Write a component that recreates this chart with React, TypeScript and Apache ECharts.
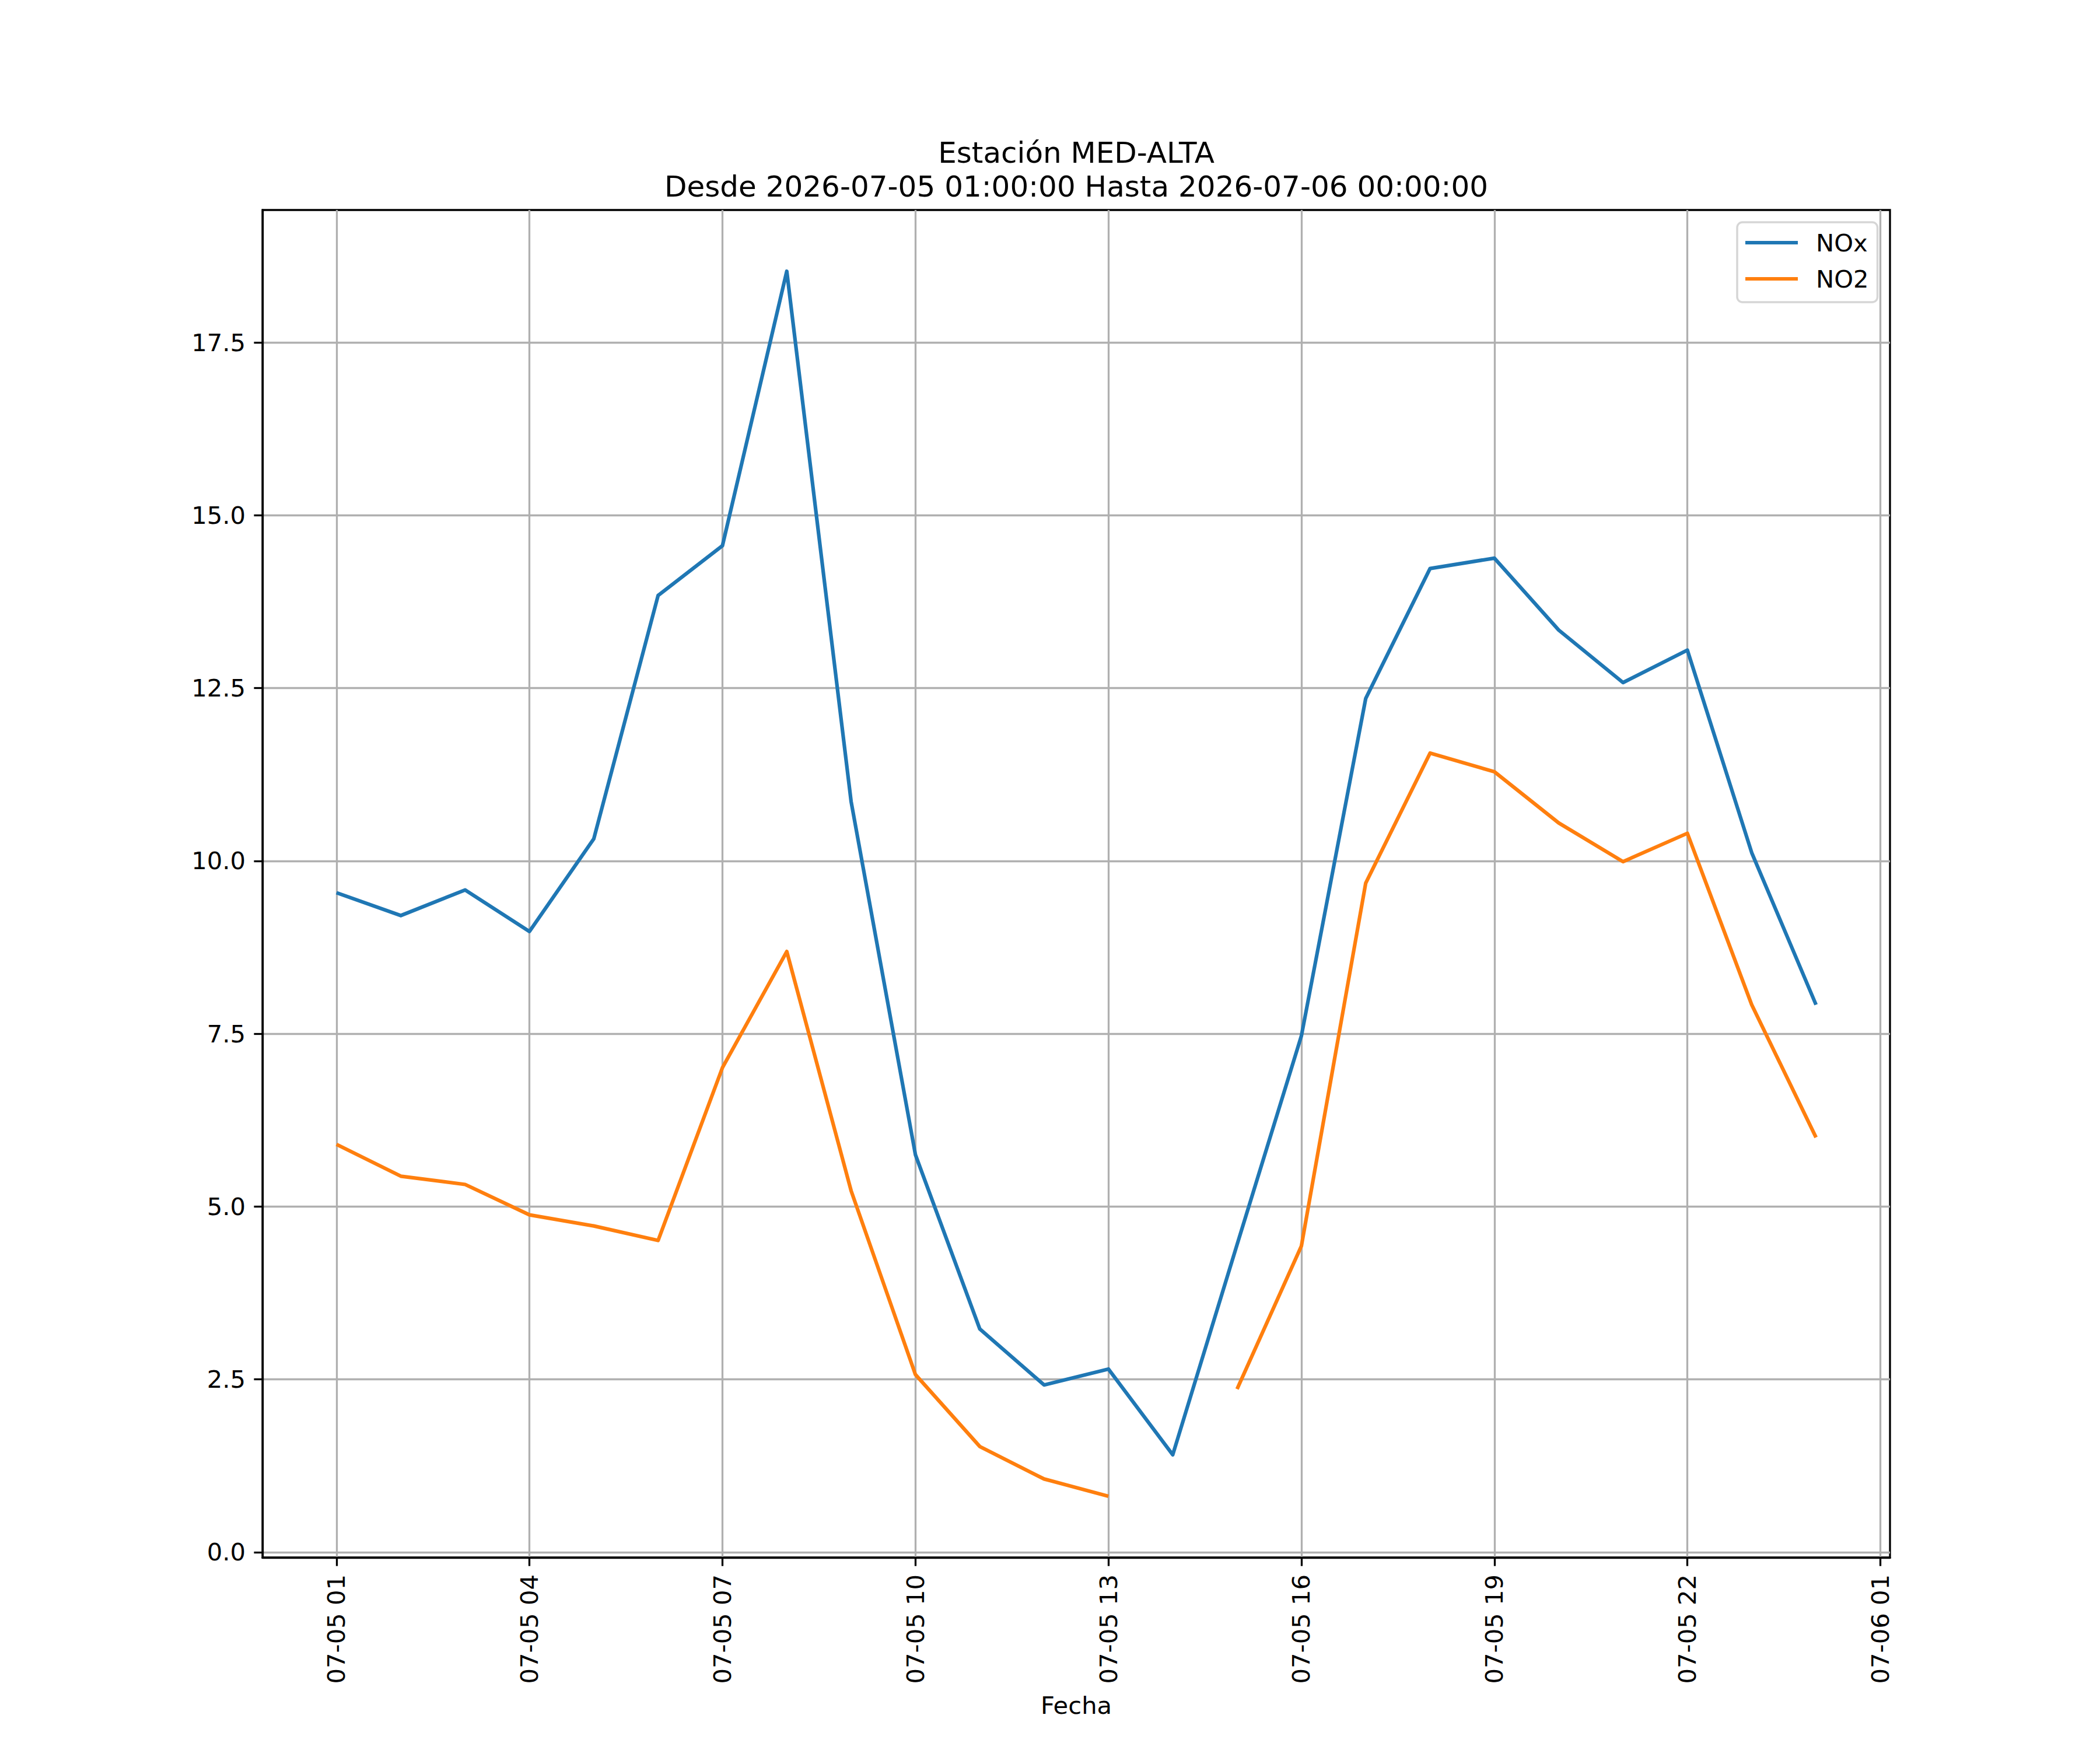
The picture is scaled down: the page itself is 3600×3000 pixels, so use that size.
import React, { useEffect, useRef } from "react";
import * as echarts from "echarts";

// horas desde 2026-07-05 00:00 (1 = 01:00, 24 = 07-06 00:00)
const hours = [1, 2, 3, 4, 5, 6, 7, 8, 9, 10, 11, 12, 13, 14, 15, 16, 17, 18, 19, 20, 21, 22, 23, 24];
const noxValues = [
  9.54, 9.21, 9.58, 8.98, 10.32, 13.84, 14.56, 18.53, 10.86, 5.75, 3.23, 2.42,
  2.65, 1.41, 4.45, 7.47, 12.35, 14.23, 14.38, 13.34, 12.58, 13.05, 10.12, 7.92,
];
const no2Values = [
  5.9, 5.44, 5.32, 4.88, 4.72, 4.51, 7.01, 8.69, 5.23, 2.57, 1.53, 1.06,
  0.81, null, 2.36, 4.43, 9.68, 11.56, 11.29, 10.55, 9.99, 10.4, 7.92, 6.0,
];
const xTickValues = [1, 4, 7, 10, 13, 16, 19, 22, 25];
const xTickLabels = [
  "07-05 01", "07-05 04", "07-05 07", "07-05 10", "07-05 13",
  "07-05 16", "07-05 19", "07-05 22", "07-06 01",
];
const yTickValues = [0, 2.5, 5, 7.5, 10, 12.5, 15, 17.5];

const FONT = "DejaVu Sans";

const App: React.FC = () => {
  const chartRef = useRef<HTMLDivElement>(null);

  useEffect(() => {
    document.body.style.margin = "0";
    if (!chartRef.current) return;
    const chart = echarts.init(chartRef.current, null, { renderer: "svg" });

    // margen de 5% como matplotlib
    const allY = [...noxValues, ...no2Values].filter((v) => v !== null) as number[];
    const yLo = Math.min(...allY);
    const yHi = Math.max(...allY);
    const yPad = (yHi - yLo) * 0.05;
    const xLo = hours[0];
    const xHi = hours[hours.length - 1];
    const xPad = (xHi - xLo) * 0.05;

    chart.setOption({
      animation: false,
      backgroundColor: "#ffffff",
      title: {
        text: "Estación MED-ALTA\nDesde 2026-07-05 01:00:00 Hasta 2026-07-06 00:00:00",
        left: 1845,
        top: 233,
        padding: 0,
        textAlign: "center",
        textStyle: {
          fontFamily: FONT,
          fontSize: 50,
          fontWeight: "normal",
          color: "#000",
          lineHeight: 58,
        },
      },
      legend: {
        orient: "vertical",
        left: 2978,
        top: 381,
        padding: [10, 15, 15, 14],
        itemGap: 12,
        itemWidth: 90,
        itemHeight: 6,
        icon: "rect",
        borderColor: "#d6d6d6",
        borderWidth: 3.5,
        borderRadius: 9,
        backgroundColor: "rgba(255,255,255,0.8)",
        textStyle: {
          fontFamily: FONT,
          fontSize: 41.7,
          color: "#000",
          lineHeight: 50,
          padding: [0, 0, 0, 26],
        },
        data: ["NOx", "NO2"],
      },
      grid: {
        left: 450,
        top: 360,
        width: 2790,
        height: 2310,
        show: true,
        borderColor: "#000",
        borderWidth: 3.3,
        backgroundColor: "transparent",
      },
      xAxis: {
        type: "value",
        min: xLo - xPad,
        max: xHi + xPad,
        name: "Fecha",
        nameLocation: "middle",
        nameGap: 232,
        nameTextStyle: { fontFamily: FONT, fontSize: 41.7, color: "#000", verticalAlign: "top" },
        axisLine: { show: true, onZero: false, lineStyle: { color: "#000", width: 3.3 } },
        axisTick: {
          show: true,
          inside: false,
          length: 14.6,
          lineStyle: { color: "#000", width: 3.3 },
          customValues: xTickValues,
        },
        axisLabel: {
          customValues: xTickValues,
          rotate: 90,
          margin: 29,
          fontFamily: FONT,
          fontSize: 41.7,
          color: "#000",
          formatter: (v: number) => xTickLabels[xTickValues.indexOf(v)] ?? "",
        },
        splitLine: { show: true, lineStyle: { color: "#b0b0b0", width: 3.3 } },
      },
      yAxis: {
        type: "value",
        min: yLo - yPad,
        max: yHi + yPad,
        axisLine: { show: true, onZero: false, lineStyle: { color: "#000", width: 3.3 } },
        axisTick: {
          show: true,
          inside: false,
          length: 14.6,
          lineStyle: { color: "#000", width: 3.3 },
          customValues: yTickValues,
        },
        axisLabel: {
          customValues: yTickValues,
          margin: 29,
          fontFamily: FONT,
          fontSize: 41.7,
          color: "#000",
          formatter: (v: number) => v.toFixed(1),
        },
        splitLine: { show: true, lineStyle: { color: "#b0b0b0", width: 3.3 } },
      },
      series: [
        {
          name: "NOx",
          type: "line",
          data: hours.map((h, i) => [h, noxValues[i]]),
          showSymbol: false,
          symbol: "none",
          color: "#1f77b4",
          lineStyle: { color: "#1f77b4", width: 6.25, join: "round" },
          z: 3,
        },
        {
          name: "NO2",
          type: "line",
          data: hours.map((h, i) => [h, no2Values[i]]),
          showSymbol: false,
          symbol: "none",
          connectNulls: false,
          color: "#ff7f0e",
          lineStyle: { color: "#ff7f0e", width: 6.25, join: "round" },
          z: 3,
        },
      ],
    });

    return () => {
      chart.dispose();
    };
  }, []);

  return <div ref={chartRef} style={{ width: "3600px", height: "3000px" }}></div>;
};

export default App;
